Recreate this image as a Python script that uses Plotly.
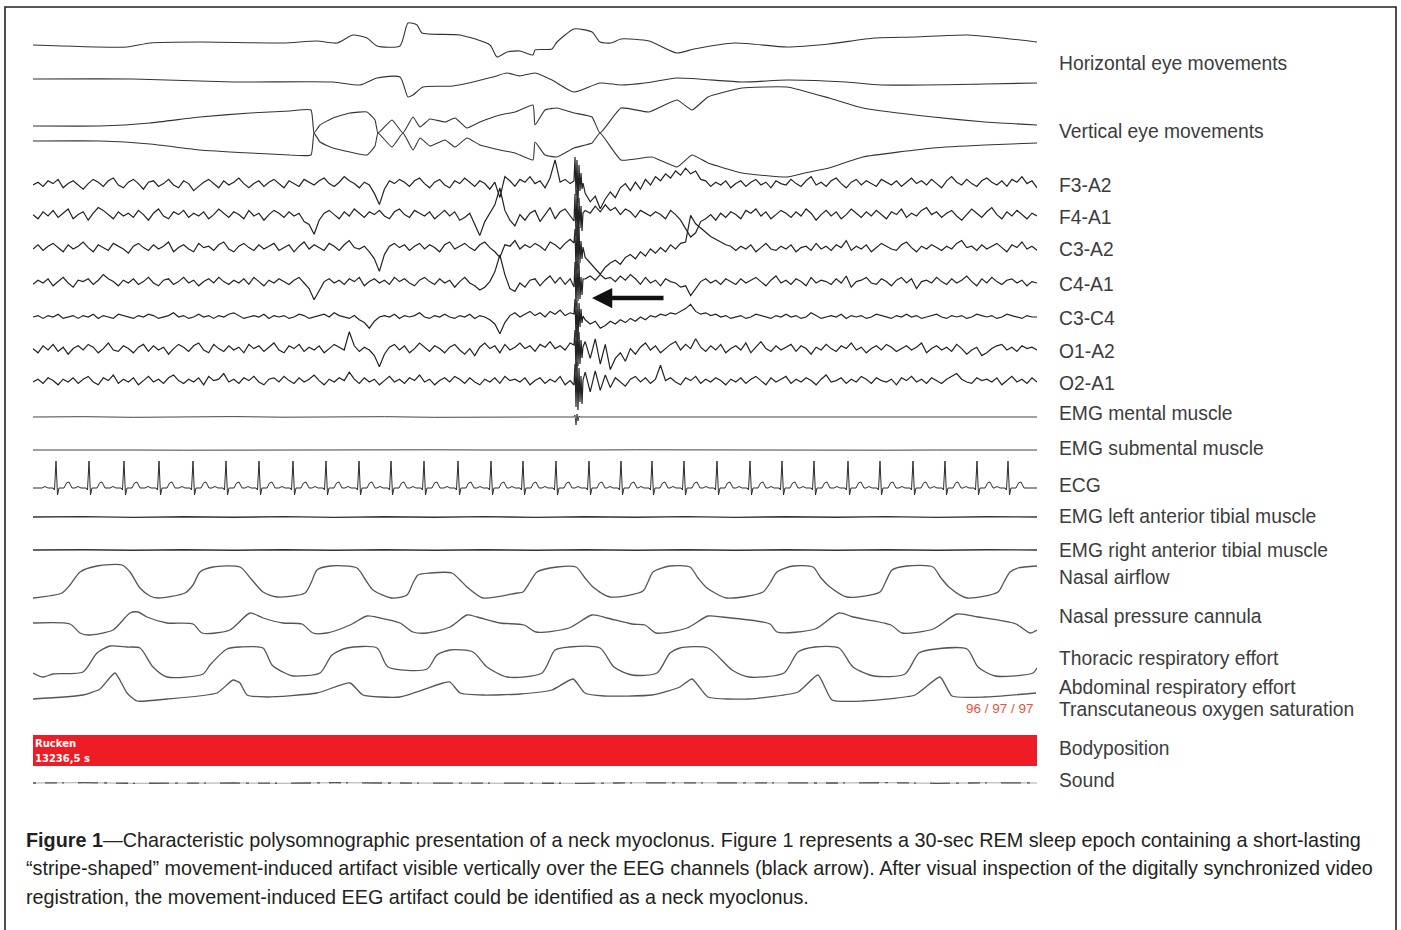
import numpy as np
import plotly.graph_objects as go

W, H = 1401, 930
N_SAMPLES = 1004  # display samples across the 30-s epoch

# ---------------- EOG (breakpoints: sample index, deflection) ----------------
HEOG1_T = [0, 94, 117, 167, 250, 284, 304, 320, 334, 344, 367, 375, 384, 389, 427, 457, 464, 474, 487, 500, 502,
           519, 524, 541, 559, 567, 578, 588, 616, 644, 661, 702, 754, 796, 841, 882, 934, 969, 1004]
HEOG1_V = [-3, -5, -1, 0, -1, 1, -1, 7, 4, -4, -4, 19, 17, 9, 7, -3, -15, -10, -9, -13, -8,
           -7, 0, 13, 10, 0, -1, 3, 1, -11, -7, -1, -5, -2, 4, 5, 7, 4, 0]
HEOG2_T = [0, 100, 200, 300, 327, 344, 367, 375, 380, 390, 420, 460, 474, 487, 502, 519, 541, 567, 588, 612, 644,
           709, 754, 813, 848, 952, 1004]
HEOG2_V = [1, 1, -2, -2, -5, 2, 3, -17, -15, -7, -6, 3, 7, 4, 7, 0, -12, -3, -5, -3, 2,
           -2, 0, -2, -5, -4, -3]
VEOG_A_T = [0, 67, 117, 167, 217, 257, 278, 281, 287, 300, 317, 334, 342, 345, 359, 370, 380, 387, 397, 412, 422,
            434, 447, 467, 482, 500, 502, 512, 524, 541, 559, 567, 588, 616, 644, 659, 675, 709, 754, 796, 830,
            900, 952, 1004]
VEOG_A_V = [7, 7, 10, 16, 20, 22, 23, 0, 8, 15, 20, 21, 13, 0, 13, 0, 16, 6, 14, 11, 15,
            5, 11, 18, 21, 28, 8, 23, 25, 20, 16, 0, 25, 21, 33, 23, 36, 45, 46, 35, 25,
            16, 11, 8]
VEOG_B_T = [0, 67, 117, 167, 217, 257, 278, 281, 287, 300, 317, 334, 342, 345, 359, 370, 380, 387, 397, 412, 422,
            434, 447, 467, 482, 500, 502, 512, 524, 541, 559, 567, 588, 619, 644, 659, 675, 709, 754, 772, 796,
            830, 900, 952, 1004]
VEOG_B_V = [-8, -8, -11, -17, -20, -22, -22, 0, -9, -15, -19, -22, -13, 0, -14, 0, -17, -5, -13, -7, -14,
            -5, -12, -17, -20, -27, -9, -22, -24, -15, -10, 0, -27, -24, -34, -22, -30, -40, -44, -40, -35,
            -24, -15, -12, -10]

# ---------------- EEG (201 equally spaced samples, deflection) ----------------
F3_A2 = [0, 2, -1, 3, 1, 4, -2, 1, 3, 0, -3, 1, 4, 2, -1, 3, 5, 0, -2, 2,
         4, 1, -3, 2, 3, -1, 1, 4, 0, -2, 3, 1, -4, -1, 2, 4, 1, -2, 3, 0,
         2, 5, 1, -2, 1, 3, -1, 2, 4, 1, -2, 3, 1, -1, 4, 2, 0, 3, 5, 1,
         -1, 2, 6, 3, 1, -2, 2, 0, -6, -14, -3, 3, 1, 4, 2, -1, 3, 5, 1, -2,
         2, 4, 0, -2, 3, 1, 5, 2, -1, 3, 1, -3, 2, -9, 6, 3, -1, 4, 2, 6,
         1, 3, -2, 5, 18, 2, 4, 1, 17, 0, -6, -12, -8, -17, -10, -5, -9, -2, 1, -4,
         2, -3, 4, 0, 6, 3, 8, 5, 10, 7, 12, 8, 10, 4, 3, -1, 2, 0, 3, -2,
         1, 3, -1, 2, 4, 0, 2, -2, 3, 1, 0, 4, 1, -1, 3, 6, 0, 2, -1, 3,
         5, 1, -2, 2, 4, 0, 3, 1, -1, 4, 2, 0, 3, -1, 2, 5, 1, 3, 0, 4,
         1, -2, 3, 6, 2, 0, 4, 1, -1, 3, 5, 2, 0, 3, -1, 4, 2, 6, 1, 3, -2]
F4_A1 = [1, -2, 3, 0, 4, -1, 2, 5, -2, 1, 3, -3, 2, 6, 4, 1, -2, 3, 0, 2,
         -1, 4, 1, -3, 2, 5, 0, -2, 3, 1, 4, -1, 2, 0, 3, -2, 1, 5, 2, -1,
         3, 1, -2, 4, 0, 2, -3, 1, 4, 2, -1, 3, 0, 2, -4, -6, -13, -3, 2, 4,
         1, -2, 3, 0, 5, 2, -1, 3, 1, 4, 0, -2, 3, 5, 1, -1, 4, 2, 0, 3,
         -2, 1, 4, 0, 3, -3, -1, 2, -6, -14, -4, 2, 8, 20, 4, -3, -7, 1, -3, 2,
         4, -4, 1, 6, -2, 3, 5, 0, 3, 0, 4, 2, 7, 3, 8, 4, 6, 1, 5, 3,
         -1, 4, 2, 0, 3, 1, -2, 4, 1, -3, -9, -15, -12, -4, -2, 1, -3, 2, -1, 3,
         1, -2, 4, 2, 5, 0, 3, -2, 1, 4, 2, -1, 3, 0, 5, 2, -3, 1, 4, 0,
         3, -2, 1, 5, 2, -1, 3, 0, 4, 1, -2, 3, 1, 5, -1, 2, 0, 4, 6, 1,
         3, -1, 2, 4, 0, -3, 1, 5, 2, -1, 3, 6, 1, -2, 3, 0, 4, 1, -2, 2, 0]
C3_A2 = [0, 3, -1, 2, 4, 1, -2, 3, 0, 2, 5, 1, -2, 3, 1, -1, 4, 2, 0, -3,
         2, 4, 1, -1, 3, 0, 2, 5, -2, 1, 3, 0, -2, 4, 1, 2, -1, 3, 5, 0,
         -2, 2, 4, 1, -1, 3, 0, 2, 4, -1, 1, 3, -2, 2, 5, 0, 3, 1, -1, 4,
         2, -1, 3, 6, 1, 0, 2, -2, -7, -16, -4, 2, 4, 1, 3, -1, 2, 4, 0, 3,
         1, -2, 3, 5, 0, 2, 4, 1, -1, 3, 5, 1, -2, -6, 3, 2, 6, 0, 3, 1,
         4, 2, -1, 5, 3, 0, 4, 7, 3, 0, -6, -10, -14, -18, -13, -10, -8, -11, -6, -4,
         -7, -2, -5, 0, -3, 1, -2, 3, 0, 4, 5, 24, 18, 15, 12, 9, 7, 5, 3, 2,
         -1, 2, 0, 3, -2, 1, 4, 0, -1, 2, 0, 3, -2, 1, 2, -1, 4, 0, 2, -1,
         3, 1, 6, -1, 2, 0, 3, -2, 1, 4, 2, 0, -1, 3, 5, 1, -2, 2, 0, 3,
         1, -1, 2, 0, 4, 6, 1, 2, -1, 3, 0, 2, 4, 1, -2, 3, 1, 5, 0, 2, -1]
C4_A1 = [-1, 2, 0, 3, -2, 1, 4, 0, -3, 2, 1, 3, -1, 2, 6, 3, 1, -2, 2, 0,
         3, -1, 1, 4, 0, -2, 2, 3, -1, 1, 4, 0, 2, -2, 1, 3, 0, 4, 1, -1,
         2, 0, 3, -1, 4, 1, -2, 2, 0, 3, 1, -1, 2, 4, 0, -4, -12, -5, 1, 3,
         0, 2, -1, 3, 1, 4, -2, 1, 3, 0, 2, -1, 4, 1, 3, 0, -2, 2, 4, 1,
         -1, 3, 0, 2, -3, 1, 4, 0, -2, -5, -3, 1, 8, 20, 6, -4, -6, 0, -3, 2,
         3, -2, 2, 5, 0, 4, -1, 3, 1, 0, 3, 5, 2, 6, 3, 4, 1, 5, 2, 6,
         3, -1, 4, 0, 2, -2, 3, 1, 0, -3, -2, -9, -4, 1, 3, 0, 2, -1, 3, 1,
         -1, 3, 0, 2, 4, 1, -2, 2, 5, 0, 2, -1, 3, 1, -2, 4, 0, 2, 1, -1,
         3, 0, 5, -3, 1, 2, 4, 0, -1, 3, 1, -2, 2, 4, 0, 3, -4, 1, 2, 0,
         4, 1, -1, 3, 0, 2, 5, 1, -2, 3, 0, 4, 1, -1, 2, 3, 0, 2, -2, 1, 0]
C3_C4 = [0, 1, -1, 1, 0, 2, -1, 0, 1, -1, 1, 0, 2, -1, 1, 0, -1, 2, 1, 0,
         -1, 1, 0, 2, 1, -1, 0, 1, 3, 0, 1, -1, 0, 2, 0, 1, -1, 1, 0, 2,
         3, 1, -1, 0, 1, 0, 2, -1, 1, 0, 1, -1, 0, 2, 1, -1, 0, 1, 2, 0,
         3, 1, 0, -1, 1, -2, -4, -8, -3, 0, 1, 0, 2, -1, 1, 0, 1, 3, 0, -1,
         1, 0, 2, 0, -1, 1, 0, 2, -1, 1, 0, -2, -5, -12, -4, 1, 3, 0, 2, 4,
         1, 3, 0, 4, 2, 5, 1, 3, 4, 0, -2, -5, -3, -8, -6, -3, -5, -2, -4, -1,
         -3, 0, -2, 1, 0, 2, 1, 3, 2, 4, 6, 9, 4, 2, 3, 1, 2, 0, 1, -1,
         0, 1, -1, 0, 2, 1, 0, -1, 1, 0, 2, 0, 1, -1, 0, 3, 1, -1, 0, 1,
         0, 2, -1, 1, 0, 1, -1, 0, 2, 1, 0, -1, 1, 0, 2, 0, 1, -1, 0, 1,
         2, 0, -1, 1, 0, 1, -1, 0, 2, 1, 0, 1, -1, 0, 2, 1, 0, -1, 1, 0, 0]
O1_A2 = [1, -2, 3, 0, 4, -1, 2, -3, 1, 3, 0, 4, 2, -2, 1, 5, 0, -1, 3, 1,
         -2, 2, 4, -1, 3, 0, 2, -3, 1, 4, 2, -1, 3, 5, 0, -2, 4, 1, -1, 3,
         0, 2, -2, 4, 1, 3, -1, 2, 5, 0, -2, 3, 1, 4, -1, 2, 0, 3, -2, 1,
         4, 2, 0, 13, 3, -1, 2, 0, -4, -12, -3, 2, 4, 0, 3, -2, 1, 5, 2, -1,
         3, 1, -2, 2, 4, 0, -3, 1, -4, 2, 5, 1, 3, -2, 4, 0, 2, 5, 1, 3,
         -1, 4, 2, 6, 1, 3, 0, 5, 7, 0, 6, -6, 8, -10, 4, -14, -6, -2, -8, 1,
         -3, 2, 5, 0, 3, -2, 1, 4, 6, 0, 4, 1, 8, 2, -1, 3, 0, 4, -2, 1,
         3, 0, 5, -2, 2, 6, 1, -1, 3, 0, 2, 4, -1, 3, 1, -3, 2, 0, 4, 1,
         -1, 3, 1, 5, 0, 2, -2, 1, 3, 0, 4, 2, -1, 1, 3, 0, 2, 5, -2, 1,
         3, 0, 2, -1, 4, 1, -3, 0, 2, -4, -2, 1, 3, 4, 0, 2, -1, 3, 1, 2, 0]
O2_A1 = [0, 2, -1, 3, 1, -2, 2, 0, 3, -1, 2, 4, 0, -2, 3, 1, 5, -1, 2, 0,
         3, -2, 1, 4, 0, 2, -1, 3, 5, 1, -1, 2, 0, 3, -2, 4, 1, 2, 6, 0,
         2, -1, 3, 1, 4, 0, -2, 2, 3, 0, 4, 1, -1, 3, 0, 2, 5, 1, -2, 2,
         0, 3, 1, 7, 2, -1, 3, 0, 2, -2, 1, 4, 0, 2, -1, 3, 1, 5, 0, 2,
         -2, 1, 3, 0, 4, 2, -1, 3, 0, -2, 2, 0, 3, -1, 4, 1, 2, 0, 3, -2,
         1, 3, -1, 2, 0, 4, -2, 1, 3, 0, 7, -7, 8, -6, 5, -4, 3, 0, -3, 2,
         4, 0, 3, -1, 2, 12, 1, 3, 0, -2, 3, 1, 4, -1, 2, 0, 3, 1, -2, 2,
         0, 3, -1, 2, 4, 1, -2, 3, 0, 2, 4, -1, 2, 0, 3, 1, -2, 2, 5, 0,
         1, 3, -1, 2, 0, 4, 2, -1, 3, 1, 0, 2, -2, 3, 1, 4, 0, 2, -1, 3,
         1, -1, 2, 4, 6, 2, 0, -1, 3, 1, 2, 0, 3, -2, 1, 4, 0, 2, -1, 3, 0]

# movement artifact (neck myoclonus), dense samples
ART_T = [541, 542, 543, 544, 545, 546, 547, 548, 549, 550]
F3_ART = [4, 28, -10, 25, -18, 20, -6, 12, -4, 2]
F4_ART = [-5, 22, -20, 26, -24, 18, -12, 10, -15, 3]
C3_ART = [6, 20, -22, 24, -20, 22, -14, 8, -10, 2]
C4_ART = [-4, 21, -24, 22, -18, 20, -16, 6, -12, 4]
C3C4_ART = [3, 18, -20, 16, -22, 14, -10, 8, -6, 1]
O1_ART = [5, 20, -22, 24, -16, 18, -14, 10, -8, 3]
O2_ART = [-3, 18, -25, 20, -28, 14, -20, 6, -22, 2]
EMGM_ART = [0, 2, -8, 3, -4, 1, 0, 0, 0, 0]

# ---------------- EMG (flat traces) ----------------
EMG_MENTAL = [0, 0.3, -0.3, 0, 0.4, -0.2, 0, 0.3, -0.3, 0.2, 0, -0.3, 0.3, 0, -0.2, 0.3, 0, -0.3, 0.2, 0, 0]
EMG_SUBMENTAL = [0, 0.2, 0, -0.2, 0, 0.2, -0.2, 0, 0.2, 0, -0.2, 0, 0.2, 0, -0.2, 0.3, 0, -0.2, 0, 0.2, 0]
EMG_LTIB = [0, 0.4, -0.4, 0.3, -0.3, 0.4, -0.4, 0.3, -0.3, 0.4, -0.4, 0.3, -0.3, 0.4, -0.4, 0.3, -0.3, 0.4, -0.4, 0.3, 0]
EMG_RTIB = [0, 0.3, -0.3, 0.3, -0.3, 0.3, -0.3, 0.3, -0.3, 0.3, -0.3, 0.3, -0.3, 0.3, -0.3, 0.3, -0.3, 0.3, -0.3, 0.3, 0]
SOUND = [0, 0.3, -0.3, 0.2, 0, -0.3, 0.3, 0, -0.2, 0.3, 0, -0.3, 0.2, 0, 0.3, -0.2, 0, 0.3, -0.3, 0.2, 0]

# ---------------- ECG ----------------
ECG_BEATS = [23, 56, 91, 126, 160, 193, 226, 260, 293, 326, 358, 391, 425, 458, 490,
             523, 556, 588, 619, 651, 684, 717, 749, 781, 815, 847, 880, 912, 944, 975]
ECG_TPL_T = [-14, -11, -8, -3, -1.5, 0, 1.5, 3, 8, 10.5, 13, 16]
ECG_TPL_V = [0, 1.5, 0, 0, -2, 27, -7, 0, 0, 5, 6, 0]

# ---------------- Respiration (breakpoints) ----------------
AIRFLOW_T = [0, 29, 37, 47, 64, 89, 97, 107, 117, 125, 152, 160, 167, 180, 207, 219, 230, 244, 272, 278, 284,
             297, 324, 332, 340, 359, 374, 380, 385, 397, 419, 427, 434, 450, 484, 490, 497, 504, 524, 543,
             552, 560, 577, 610, 615, 620, 637, 657, 665, 674, 694, 730, 737, 744, 760, 780, 788, 797, 814,
             847, 853, 859, 874, 900, 908, 917, 934, 965, 971, 977, 985, 1004]
AIRFLOW_V = [-16, -11, -3, 10, 16, 17, 10, -6, -14, -16, -11, -3, 10, 15, 15, 2, -10, -15, -11, -1, 12,
             16, 14, 3, -8, -16, -13, -1, 7, 9, 9, 2, -5, -16, -11, -10, 0, 10, 15, 15,
             4, -5, -15, -9, 0, 10, 16, 15, 4, -6, -16, -10, -1, 10, 16, 15, 4, -5, -15,
             -10, 1, 12, 16, 15, 4, -6, -16, -10, 0, 10, 14, 16]
PRESSURE_T = [0, 37, 47, 55, 80, 97, 105, 114, 134, 160, 169, 197, 217, 230, 250, 269, 280, 294, 317, 334, 347,
              367, 380, 394, 417, 434, 444, 467, 491, 503, 536, 559, 574, 599, 612, 623, 654, 675, 689, 737,
              744, 782, 806, 820, 858, 869, 900, 924, 945, 983, 997, 1004]
PRESSURE_V = [2, 1, -8, -10, -5, 12, 13, 8, 2, 1, -8, -5, 12, 7, 2, 1, -8, -8, 0, 9, 7,
              2, -7, -8, -2, 10, 8, 2, 0, -7, -3, 10, 7, 1, 0, -8, -3, 9, 8, 1,
              -7, -4, 12, 8, 0, -8, -4, 11, 8, 1, -8, -5]
THORAX_T = [0, 10, 20, 50, 64, 77, 94, 107, 120, 134, 170, 177, 194, 207, 230, 239, 254, 260, 287, 299, 314,
            344, 355, 394, 404, 417, 440, 454, 474, 509, 522, 536, 567, 581, 599, 624, 637, 647, 675, 699,
            716, 751, 765, 782, 806, 820, 841, 872, 886, 903, 934, 945, 962, 1000, 1004]
THORAX_V = [-13, -17, -14, -12, 7, 14, 13, 12, -7, -17, -14, -5, 11, 13, 12, -5, -14, -16, -13, 5, 12,
            12, -7, -9, 5, 10, 8, -7, -17, -13, 10, 13, 12, -7, -15, -13, 7, 12, 12, -10,
            -17, -13, 8, 13, 12, -7, -16, -14, 7, 11, 11, -7, -16, -13, -8]
ABDOMEN_T = [0, 50, 67, 82, 94, 104, 134, 184, 200, 207, 214, 234, 284, 317, 330, 367, 410, 417, 427, 450, 487,
             519, 540, 552, 571, 619, 647, 659, 675, 716, 765, 785, 799, 830, 882, 907, 919, 952, 1003]
ABDOMEN_V = [-9, -5, 1, 17, -3, -11, -9, -3, 10, 7, -5, -7, -3, 7, -5, -7, 7, 8, -3, -5, -4,
             0, 11, -3, -6, -5, 3, 11, -7, -9, -2, 15, -10, -11, -5, 13, -6, -7, -3]

# ---------------- Labels ----------------
CHANNEL_LABELS = ["Horizontal eye movements", "Vertical eye movements", "F3-A2", "F4-A1", "C3-A2", "C4-A1",
                  "C3-C4", "O1-A2", "O2-A1", "EMG mental muscle", "EMG submental muscle", "ECG",
                  "EMG left anterior tibial muscle", "EMG right anterior tibial muscle", "Nasal airflow",
                  "Nasal pressure cannula", "Thoracic respiratory effort", "Abdominal respiratory effort",
                  "Transcutaneous oxygen saturation", "Bodyposition", "Sound"]
SPO2_TEXT = "96 / 97 / 97"
BODYPOS_TEXT = ["Rucken", "13236,5 s"]
CAPTION = [
    "<b>Figure 1</b>\u2014Characteristic polysomnographic presentation of a neck myoclonus. Figure 1 represents a 30-sec REM sleep epoch containing a short-lasting",
    "\u201cstripe-shaped\u201d movement-induced artifact visible vertically over the EEG channels (black arrow). After visual inspection of the digitally synchronized video",
    "registration, the movement-induced EEG artifact could be identified as a neck myoclonus.",
]

# ---------------- layout constants (screen positions) ----------------
BASE = {"HEOG1": 42, "HEOG2": 80, "VEOG": 133, "F3": 185, "F4": 216, "C3": 249, "C4": 283, "C3C4": 317,
        "O1": 350, "O2": 382, "EMGM": 417, "EMGS": 450, "ECG": 488, "LTIB": 517, "RTIB": 550,
        "AIR": 582, "PRES": 625, "THOR": 660, "ABD": 690, "SOUND": 783}
LABEL_Y = [63, 131, 185, 217, 250, 284, 318, 352, 383, 413, 448, 485, 516, 550, 577, 616, 658, 687, 709, 748, 780]
EEG_GAIN = 1.4

fig = go.Figure()


def add(x, v, base, color="#2b2b2b", width=1.1, shape="linear", smoothing=0.0, dash=None):
    y = base - np.asarray(v, float)
    line = dict(color=color, width=width, shape=shape)
    if shape == "spline":
        line["smoothing"] = smoothing
    if dash:
        line["dash"] = dash
    fig.add_trace(go.Scatter(x=list(x), y=list(y), mode="lines", line=line, hoverinfo="skip", showlegend=False))


def eeg_xy(vals, art, gain=1.0):
    t = np.linspace(0, N_SAMPLES, len(vals))
    v = np.asarray(vals, float) * gain
    keep = (t < ART_T[0] - 0.5) | (t > ART_T[-1] + 0.5)
    x = np.concatenate([t[keep], ART_T])
    y = np.concatenate([v[keep], art])
    o = np.argsort(x, kind="stable")
    return x[o], y[o]


# EOG
add(HEOG1_T, HEOG1_V, BASE["HEOG1"], color="#333", width=1.1, shape="spline", smoothing=0.6)
add(HEOG2_T, HEOG2_V, BASE["HEOG2"], color="#333", width=1.1, shape="spline", smoothing=0.6)
add(VEOG_A_T, VEOG_A_V, BASE["VEOG"], color="#333", width=1.1, shape="spline", smoothing=0.4)
add(VEOG_B_T, VEOG_B_V, BASE["VEOG"], color="#333", width=1.1, shape="spline", smoothing=0.4)

# EEG
for vals, art, key in [(F3_A2, F3_ART, "F3"), (F4_A1, F4_ART, "F4"), (C3_A2, C3_ART, "C3"),
                       (C4_A1, C4_ART, "C4"), (C3_C4, C3C4_ART, "C3C4"), (O1_A2, O1_ART, "O1"),
                       (O2_A1, O2_ART, "O2")]:
    x, v = eeg_xy(vals, art, EEG_GAIN)
    add(x, v, BASE[key], color="#222", width=1.2)

# EMG
x, v = eeg_xy(EMG_MENTAL, EMGM_ART)
add(x, v, BASE["EMGM"], color="#444", width=1.0)
add(np.linspace(0, N_SAMPLES, len(EMG_SUBMENTAL)), EMG_SUBMENTAL, BASE["EMGS"], color="#444", width=1.0)
add(np.linspace(0, N_SAMPLES, len(EMG_LTIB)), EMG_LTIB, BASE["LTIB"], color="#333", width=1.4)
add(np.linspace(0, N_SAMPLES, len(EMG_RTIB)), EMG_RTIB, BASE["RTIB"], color="#333", width=1.4)

# ECG
ex, ev = [0.0], [0.0]
for b in ECG_BEATS:
    for dt, val in zip(ECG_TPL_T, ECG_TPL_V):
        ex.append(b + dt)
        ev.append(val)
ex.append(N_SAMPLES)
ev.append(0.0)
add(ex, ev, BASE["ECG"], color="#2b2b2b", width=1.0)

# Respiration
add(AIRFLOW_T, AIRFLOW_V, BASE["AIR"], color="#555", width=1.3, shape="spline", smoothing=0.7)
add(PRESSURE_T, PRESSURE_V, BASE["PRES"], color="#555", width=1.3, shape="spline", smoothing=0.7)
add(THORAX_T, THORAX_V, BASE["THOR"], color="#555", width=1.3, shape="spline", smoothing=0.7)
add(ABDOMEN_T, ABDOMEN_V, BASE["ABD"], color="#555", width=1.3, shape="spline", smoothing=0.5)

# Sound: faint base line with darker fragments
sx = np.linspace(0, N_SAMPLES, len(SOUND))
add(sx, SOUND, BASE["SOUND"], color="#aaa", width=1.0)
add(sx, SOUND, BASE["SOUND"], color="#555", width=1.3, dash="3px,9px,12px,5px,2px,14px,20px,6px")

# body position bar
fig.add_shape(type="rect", xref="x", yref="y", x0=0, x1=N_SAMPLES, y0=735, y1=766,
              fillcolor="#ee1c25", line=dict(width=0), layer="below")
for txt, yy in zip(BODYPOS_TEXT, [743, 758]):
    fig.add_annotation(x=0, y=yy, xref="x", yref="y", text=f"<b>{txt}</b>", showarrow=False,
                       xanchor="left", yanchor="middle",
                       font=dict(family="DejaVu Sans", size=10, color="white"))

# SpO2 text
fig.add_annotation(x=N_SAMPLES - 1, y=708, xref="x", yref="y", text=SPO2_TEXT, showarrow=False,
                   xanchor="right", yanchor="middle",
                   font=dict(family="Liberation Sans", size=13.5, color="#f0503a"))

# arrow
fig.add_annotation(x=559, y=298, ax=632, ay=298, xref="x", yref="y", axref="x", ayref="y",
                   text="", showarrow=True, arrowhead=2, arrowsize=0.9, arrowwidth=4.5, arrowcolor="#111",
                   standoff=0)

# channel labels
for lab, ly in zip(CHANNEL_LABELS, LABEL_Y):
    fig.add_annotation(x=1057 / W, y=1 - ly / H, xref="paper", yref="paper", text=lab, showarrow=False,
                       xanchor="left", yanchor="middle",
                       font=dict(family="Liberation Sans, Arial", size=19.3, color="#3c3c3c"))

# caption
for line, cy in zip(CAPTION, [840, 868, 897]):
    fig.add_annotation(x=24 / W, y=1 - cy / H, xref="paper", yref="paper", text=line, showarrow=False,
                       xanchor="left", yanchor="middle",
                       font=dict(family="Liberation Sans, Arial", size=19.8, color="#231f20"))

# frame
fig.add_shape(type="rect", xref="paper", yref="paper", x0=5 / W, x1=1396 / W, y0=-0.02, y1=1 - 7 / H,
              line=dict(color="#222", width=1.6), fillcolor="rgba(0,0,0,0)")

fig.update_layout(
    width=W, height=H, margin=dict(l=0, r=0, t=0, b=0),
    paper_bgcolor="white", plot_bgcolor="white", showlegend=False,
    xaxis=dict(domain=[33 / W, 1037 / W], range=[0, N_SAMPLES], visible=False, fixedrange=True),
    yaxis=dict(domain=[0, 1], range=[H, 0], visible=False, fixedrange=True),
)

fig.write_html("out.html")
